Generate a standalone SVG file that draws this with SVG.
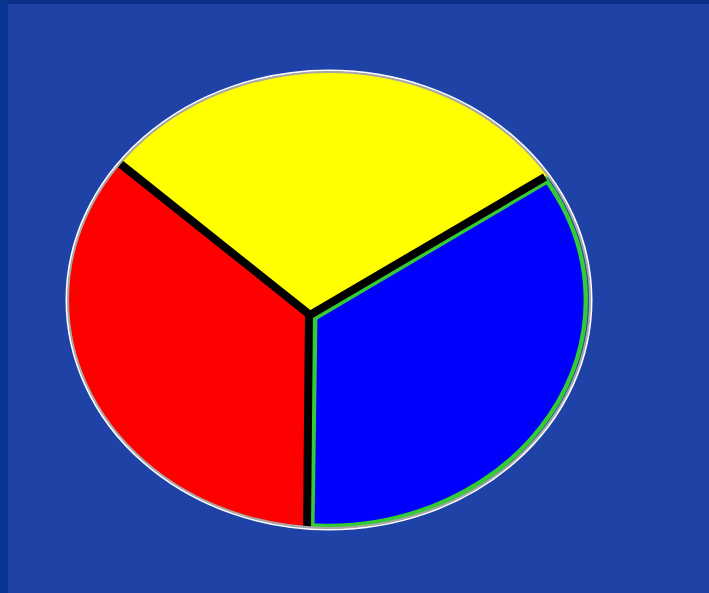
<svg xmlns="http://www.w3.org/2000/svg" width="709" height="593" viewBox="0 0 709 593">
  <defs>
    <clipPath id="pieClip">
      <ellipse cx="329" cy="300" rx="261" ry="228"/>
    </clipPath>
    <clipPath id="blueClip">
      <path d="M310,315 L546,176 A261,228 0 0 1 307,527.5 Z"/>
    </clipPath>
  </defs>
  <style>
    .divider { stroke: #000; stroke-width: 8; stroke-linecap: butt; fill: none; }
    .edge { stroke: #33cc33; fill: none; }
  </style>
  <rect x="0" y="0" width="709" height="593" fill="#1e42a6"/>
  <rect x="0" y="0" width="709" height="4" fill="#0b2e88"/>
  <rect x="0" y="0" width="8" height="593" fill="#0a3592"/>
  <g id="pie">
    <g clip-path="url(#pieClip)">
      <polygon id="yellow" points="310,315 22,85 22,0 700,0 660,112" fill="#ffff00"/>
      <polygon id="red" points="310,315 22,85 0,85 0,600 305,600" fill="#ff0000"/>
      <g id="blue" clip-path="url(#blueClip)">
        <path d="M310,315 L546,176 A261,228 0 0 1 307,527.5 Z" fill="#0000ff"/>
        <path class="edge" d="M546,176 A261,228 0 0 1 307,527.5" stroke-width="9"/>
        <line class="edge" x1="310" y1="315" x2="546" y2="176" stroke-width="15"/>
        <line class="edge" x1="310" y1="315" x2="307" y2="528" stroke-width="15"/>
      </g>
    </g>
    <g id="dividers">
      <line class="divider" x1="310" y1="315" x2="118" y2="162"/>
      <line class="divider" x1="310" y1="315" x2="545" y2="177"/>
      <line class="divider" x1="309" y1="311" x2="307" y2="529"/>
    </g>
    <ellipse cx="329" cy="300" rx="262.5" ry="229.5" fill="none" stroke="#ffffff" stroke-width="2"/>
    <ellipse cx="329" cy="300" rx="261" ry="228" fill="none" stroke="#a8a8a8" stroke-width="2"/>
  </g>
</svg>
